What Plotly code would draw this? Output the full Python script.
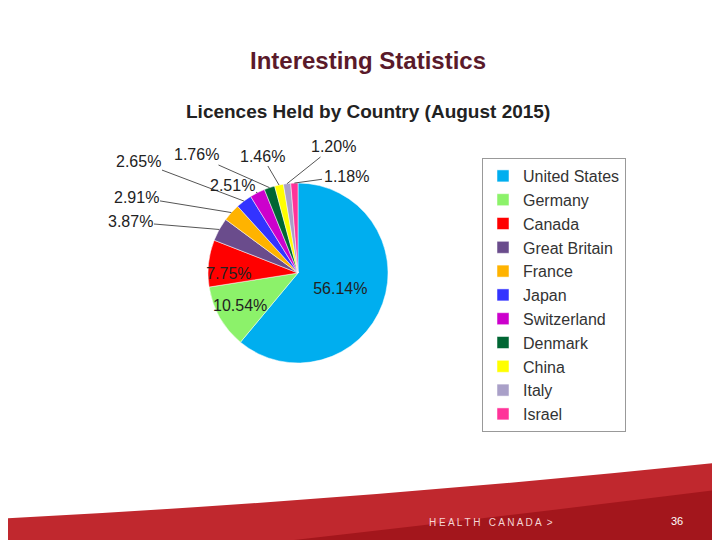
import math
import plotly.graph_objects as go

countries = ["United States", "Germany", "Canada", "Great Britain", "France", "Japan",
             "Switzerland", "Denmark", "China", "Italy", "Israel"]
shares = [56.14, 10.54, 7.75, 3.87, 2.91, 2.65, 2.51, 1.76, 1.46, 1.20, 1.18]
colors = ["#00AEEF", "#8CF26A", "#FF0000", "#6A4C8C", "#FFB300", "#3333FF",
          "#CC00CC", "#006633", "#FFFF00", "#A9A0C8", "#FF3399"]
# where the small-slice labels sit (pixels from top-left)
label_pos = {"Great Britain": (122, 214), "France": (128, 189), "Japan": (130, 153),
             "Switzerland": (224, 177), "Denmark": (188, 147), "China": (254, 148),
             "Italy": (325, 139), "Israel": (338, 168)}

W, H = 720, 540
cx, cy, r = 290, 265, 90
inside = {"United States", "Germany", "Canada"}

fig = go.Figure(go.Pie(
    labels=countries, values=shares, sort=False, direction="clockwise", rotation=0,
    marker=dict(colors=colors, line=dict(color="white", width=0.5)),
    text=[f"{v:.2f}%" if c in inside else "" for c, v in zip(countries, shares)],
    textinfo="text", textposition="inside", insidetextorientation="horizontal",
    textfont=dict(family="Liberation Sans, Arial", size=16, color="#222"),
    domain=dict(x=[(cx - r) / W, (cx + r) / W], y=[1 - (cy + r) / H, 1 - (cy - r) / H]),
))

annotations = [
    dict(text="<b>Interesting Statistics</b>", x=0.5, y=1 - 52 / H, xref="paper", yref="paper",
         yanchor="middle", showarrow=False, font=dict(size=24, color="#5A1A2A")),
    dict(text="<b>Licences Held by Country (August 2015)</b>", x=0.5, y=1 - 103 / H,
         yanchor="middle", xref="paper", yref="paper", showarrow=False,
         font=dict(size=19, color="#222")),
    dict(text="H E A L T H   C A N A D A  >", x=0.76, y=0.033, xref="paper", yref="paper",
         showarrow=False, font=dict(size=10, color="#f5d5d5")),
    dict(text="36", x=0.94, y=0.035, xref="paper", yref="paper",
         showarrow=False, font=dict(size=11, color="white")),
]

total = sum(shares)
cum = 0
for c, v in zip(countries, shares):
    mid = (cum + v / 2) / total
    cum += v
    if c not in label_pos:
        continue
    th = math.radians(90 - 360 * mid)
    ex, ey = cx + r * math.cos(th), cy - r * math.sin(th)
    lx, ly = label_pos[c]
    annotations.append(dict(
        text=f"{v:.2f}%", x=ex / W, y=1 - ey / H, xref="paper", yref="paper",
        ax=lx - ex, ay=ly - ey, showarrow=True, arrowhead=0, arrowwidth=1,
        arrowcolor="#555", font=dict(size=16, color="#222"), standoff=0))

fig.update_layout(
    width=W, height=H, margin=dict(l=0, r=0, t=0, b=0),
    paper_bgcolor="white", font=dict(family="Liberation Sans, Arial"),
    uniformtext=dict(minsize=15, mode="show"),
    showlegend=True,
    legend=dict(x=474 / W, y=1 - 150 / H, xanchor="left", yanchor="top",
                bordercolor="#999", borderwidth=1, font=dict(size=16, color="#333"),
                itemwidth=30, tracegroupgap=0),
    annotations=annotations,
    shapes=[
        dict(type="path", xref="paper", yref="paper",
             path="M 0 0 L 0 0.055 Q 0.5 0.09 1 0.16 L 1 0 Z",
             fillcolor="#C0282E", line=dict(width=0), layer="below"),
        dict(type="path", xref="paper", yref="paper",
             path="M 0.3 0 Q 0.7 0.06 1 0.11 L 1 0 Z",
             fillcolor="#A3161C", line=dict(width=0), layer="below"),
    ],
)

fig.write_html("out.html")
